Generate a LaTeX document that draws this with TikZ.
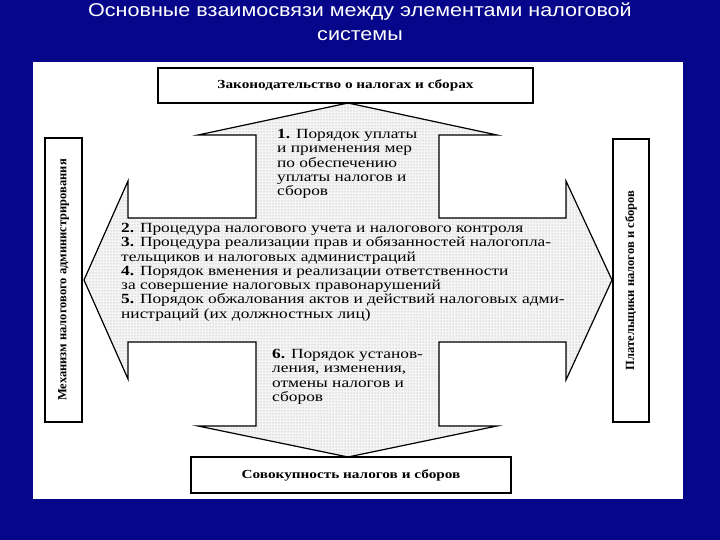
\documentclass[tikz,border=0pt]{standalone}
\usepackage{fontspec}
\setmainfont{Liberation Serif}
\newfontfamily\scanfont[FakeStretch=1.24]{Liberation Serif}
\newfontfamily\slidefont[FakeStretch=1.165]{Liberation Sans}
\usetikzlibrary{patterns}
\definecolor{slideblue}{RGB}{6,6,138}

\begin{document}
\begin{tikzpicture}[x=1pt, y=-1pt,
    framebox/.style={draw, line width=1.2pt, fill=white, inner sep=0pt},
    boxtext/.style={font=\scanfont\fontsize{12.3}{14}\selectfont\bfseries},
    sidetext/.style={font=\fontsize{12.5}{14}\selectfont\bfseries, rotate=90},
    itemtext/.style={anchor=north west, inner sep=0pt, align=left,
        font=\scanfont\fontsize{14}{14.3}\selectfont}]
    % Fondo del slide
    \fill[slideblue] (0, 0) rectangle (720, 540);
    \fill[white] (33, 62) rectangle (683, 499);

    % Titulo
    \node[anchor=north, inner sep=0pt, align=center, text=white,
        font=\slidefont\fontsize{18.5}{24}\selectfont] (title) at (360, 3)
        {Основные взаимосвязи между элементами налоговой\\системы};

    % Flecha en cruz (punteada)
    \fill[gray!8] (348, 103) -- (497, 135) -- (439, 135) -- (439, 218) -- (566, 218) -- (566, 181) -- (612, 280) -- (566, 380) -- (566, 342) -- (439, 342) -- (439, 426) -- (497, 426) -- (348, 457) -- (198, 426) -- (256, 426) -- (256, 342) -- (128, 342) -- (128, 379) -- (84, 280) -- (128, 181) -- (128, 218) -- (256, 218) -- (256, 135) -- (198, 135) -- cycle;
    \fill[pattern=dots, pattern color=gray!75] (348, 103) -- (497, 135) -- (439, 135) -- (439, 218) -- (566, 218) -- (566, 181) -- (612, 280) -- (566, 380) -- (566, 342) -- (439, 342) -- (439, 426) -- (497, 426) -- (348, 457) -- (198, 426) -- (256, 426) -- (256, 342) -- (128, 342) -- (128, 379) -- (84, 280) -- (128, 181) -- (128, 218) -- (256, 218) -- (256, 135) -- (198, 135) -- cycle;
    \draw[line width=1.2pt, line join=miter] (348, 103) -- (497, 135) -- (439, 135) -- (439, 218) -- (566, 218) -- (566, 181) -- (612, 280) -- (566, 380) -- (566, 342) -- (439, 342) -- (439, 426) -- (497, 426) -- (348, 457) -- (198, 426) -- (256, 426) -- (256, 342) -- (128, 342) -- (128, 379) -- (84, 280) -- (128, 181) -- (128, 218) -- (256, 218) -- (256, 135) -- (198, 135) -- cycle;

    % Cajas
    \node[framebox, boxtext, minimum width=375, minimum height=35] (law) at (345.5, 85.5)
        {Законодательство о налогах и сборах};
    \node[framebox, boxtext, minimum width=320, minimum height=36] (taxes) at (351, 475)
        {Совокупность налогов и сборов};
    \node[framebox, minimum width=37, minimum height=284] (admin) at (63.5, 280) {};
    \node[sidetext] (admintext) at (admin.center) {Механизм налогового администрирования};
    \node[framebox, minimum width=36, minimum height=283] (payers) at (631, 280.5) {};
    \node[sidetext] (payerstext) at (payers.center) {Плательщики налогов и сборов};

    % Textos
    \node[itemtext] (p1) at (277, 129)
        {\textbf{1.} Порядок уплаты\\и применения мер\\по обеспечению\\уплаты налогов и\\сборов};
    \node[itemtext] (p2) at (121, 223)
        {\textbf{2.} Процедура налогового учета и налогового контроля\\
         \textbf{3.} Процедура реализации прав и обязанностей налогопла-\\
         тельщиков и налоговых администраций\\
         \textbf{4.} Порядок вменения и реализации ответственности\\
         за совершение налоговых правонарушений\\
         \textbf{5.} Порядок обжалования актов и действий налоговых адми-\\
         нистраций (их должностных лиц)};
    \node[itemtext] (p6) at (272, 349)
        {\textbf{6.} Порядок установ-\\ления, изменения,\\отмены налогов и\\сборов};
\end{tikzpicture}
\end{document}
